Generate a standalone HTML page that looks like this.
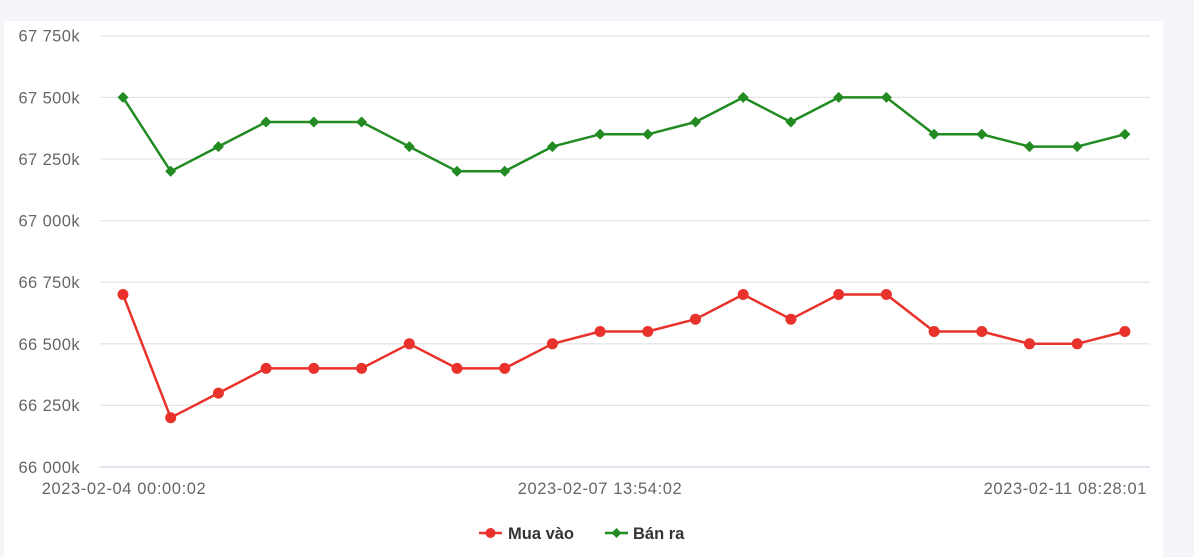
<!DOCTYPE html>
<html>
<head>
<meta charset="utf-8">
<style>
  html,body{margin:0;padding:0;background:#f4f5f9;}
  body{width:1194px;height:557px;overflow:hidden;position:relative;}
  .card{position:absolute;left:4px;top:21px;width:1159px;height:536px;background:#ffffff;}
  svg{position:absolute;left:0;top:0;}
  text{font-family:"Liberation Sans",sans-serif;}
</style>
</head>
<body>
<div class="card"></div>
<svg width="1194" height="557" viewBox="0 0 1194 557" xmlns="http://www.w3.org/2000/svg">
  <!-- grid lines -->
  <g stroke="#e6e6e6" stroke-width="1.3">
    <line x1="100" y1="35.8" x2="1150" y2="35.8"/>
    <line x1="100" y1="97.4" x2="1150" y2="97.4"/>
    <line x1="100" y1="159" x2="1150" y2="159"/>
    <line x1="100" y1="220.6" x2="1150" y2="220.6"/>
    <line x1="100" y1="282.2" x2="1150" y2="282.2"/>
    <line x1="100" y1="343.8" x2="1150" y2="343.8"/>
    <line x1="100" y1="405.4" x2="1150" y2="405.4"/>
  </g>
  <line x1="100" y1="467" x2="1150" y2="467" stroke="#ccd6eb" stroke-width="1.3"/>

  <!-- y labels -->
  <g fill="#666666" font-size="16.5" text-anchor="end" letter-spacing="0.4">
    <text x="80" y="41.5">67 750k</text>
    <text x="80" y="103.5">67 500k</text>
    <text x="80" y="165">67 250k</text>
    <text x="80" y="226.5">67 000k</text>
    <text x="80" y="288">66 750k</text>
    <text x="80" y="350">66 500k</text>
    <text x="80" y="411">66 250k</text>
    <text x="80" y="473">66 000k</text>
  </g>

  <!-- x labels -->
  <g fill="#666666" font-size="16.5" letter-spacing="0.6">
    <text x="124" y="494" text-anchor="middle">2023-02-04 00:00:02</text>
    <text x="600" y="494" text-anchor="middle">2023-02-07 13:54:02</text>
    <text x="1147" y="494" text-anchor="end">2023-02-11 08:28:01</text>
  </g>

  <!-- green series -->
  <polyline fill="none" stroke="#228b22" stroke-width="2.5" stroke-linejoin="round"
    points="123,97.4 170.7,171.3 218.4,146.6 266.1,122 313.8,122 361.6,122 409.3,146.6 457,171.3 504.7,171.3 552.4,146.6 600.1,134.3 647.8,134.3 695.5,122 743.2,97.4 790.9,122 838.7,97.4 886.4,97.4 934.1,134.3 981.8,134.3 1029.5,146.6 1077.2,146.6 1124.9,134.3"/>
  <g fill="#228b22">
    <path d="M123 91.9 L128.5 97.4 L123 102.9 L117.5 97.4Z"/>
    <path d="M170.7 165.8 L176.2 171.3 L170.7 176.8 L165.2 171.3Z"/>
    <path d="M218.4 141.1 L223.9 146.6 L218.4 152.1 L212.9 146.6Z"/>
    <path d="M266.1 116.5 L271.6 122 L266.1 127.5 L260.6 122Z"/>
    <path d="M313.8 116.5 L319.3 122 L313.8 127.5 L308.3 122Z"/>
    <path d="M361.6 116.5 L367.1 122 L361.6 127.5 L356.1 122Z"/>
    <path d="M409.3 141.1 L414.8 146.6 L409.3 152.1 L403.8 146.6Z"/>
    <path d="M457 165.8 L462.5 171.3 L457 176.8 L451.5 171.3Z"/>
    <path d="M504.7 165.8 L510.2 171.3 L504.7 176.8 L499.2 171.3Z"/>
    <path d="M552.4 141.1 L557.9 146.6 L552.4 152.1 L546.9 146.6Z"/>
    <path d="M600.1 128.8 L605.6 134.3 L600.1 139.8 L594.6 134.3Z"/>
    <path d="M647.8 128.8 L653.3 134.3 L647.8 139.8 L642.3 134.3Z"/>
    <path d="M695.5 116.5 L701 122 L695.5 127.5 L690 122Z"/>
    <path d="M743.2 91.9 L748.7 97.4 L743.2 102.9 L737.7 97.4Z"/>
    <path d="M790.9 116.5 L796.4 122 L790.9 127.5 L785.4 122Z"/>
    <path d="M838.7 91.9 L844.2 97.4 L838.7 102.9 L833.2 97.4Z"/>
    <path d="M886.4 91.9 L891.9 97.4 L886.4 102.9 L880.9 97.4Z"/>
    <path d="M934.1 128.8 L939.6 134.3 L934.1 139.8 L928.6 134.3Z"/>
    <path d="M981.8 128.8 L987.3 134.3 L981.8 139.8 L976.3 134.3Z"/>
    <path d="M1029.5 141.1 L1035 146.6 L1029.5 152.1 L1024 146.6Z"/>
    <path d="M1077.2 141.1 L1082.7 146.6 L1077.2 152.1 L1071.7 146.6Z"/>
    <path d="M1124.9 128.8 L1130.4 134.3 L1124.9 139.8 L1119.4 134.3Z"/>
  </g>

  <!-- red series -->
  <polyline fill="none" stroke="#e8322b" stroke-width="2.5" stroke-linejoin="round"
    points="123,294.5 170.7,417.7 218.4,393.1 266.1,368.4 313.8,368.4 361.6,368.4 409.3,343.8 457,368.4 504.7,368.4 552.4,343.8 600.1,331.5 647.8,331.5 695.5,319.2 743.2,294.5 790.9,319.2 838.7,294.5 886.4,294.5 934.1,331.5 981.8,331.5 1029.5,343.8 1077.2,343.8 1124.9,331.5"/>
  <g fill="#e8322b">
    <circle cx="123" cy="294.5" r="5.5"/>
    <circle cx="170.7" cy="417.7" r="5.5"/>
    <circle cx="218.4" cy="393.1" r="5.5"/>
    <circle cx="266.1" cy="368.4" r="5.5"/>
    <circle cx="313.8" cy="368.4" r="5.5"/>
    <circle cx="361.6" cy="368.4" r="5.5"/>
    <circle cx="409.3" cy="343.8" r="5.5"/>
    <circle cx="457" cy="368.4" r="5.5"/>
    <circle cx="504.7" cy="368.4" r="5.5"/>
    <circle cx="552.4" cy="343.8" r="5.5"/>
    <circle cx="600.1" cy="331.5" r="5.5"/>
    <circle cx="647.8" cy="331.5" r="5.5"/>
    <circle cx="695.5" cy="319.2" r="5.5"/>
    <circle cx="743.2" cy="294.5" r="5.5"/>
    <circle cx="790.9" cy="319.2" r="5.5"/>
    <circle cx="838.7" cy="294.5" r="5.5"/>
    <circle cx="886.4" cy="294.5" r="5.5"/>
    <circle cx="934.1" cy="331.5" r="5.5"/>
    <circle cx="981.8" cy="331.5" r="5.5"/>
    <circle cx="1029.5" cy="343.8" r="5.5"/>
    <circle cx="1077.2" cy="343.8" r="5.5"/>
    <circle cx="1124.9" cy="331.5" r="5.5"/>
  </g>

  <!-- legend -->
  <line x1="479" y1="533" x2="502" y2="533" stroke="#e8322b" stroke-width="2.5"/>
  <circle cx="490.5" cy="533" r="5" fill="#e8322b"/>
  <text x="508" y="539" font-size="16.5" font-weight="bold" fill="#333333">Mua vào</text>
  <line x1="605" y1="533" x2="628" y2="533" stroke="#228b22" stroke-width="2.5"/>
  <path d="M616.5 528 L621.5 533 L616.5 538 L611.5 533Z" fill="#228b22"/>
  <text x="633" y="539" font-size="16.5" font-weight="bold" fill="#333333">Bán ra</text>
</svg>
</body>
</html>
